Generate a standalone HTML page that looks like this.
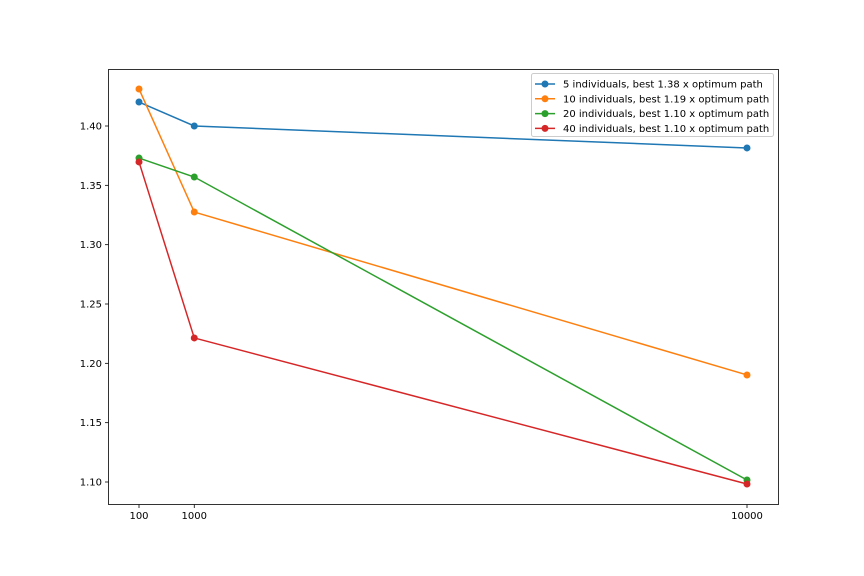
<!DOCTYPE html>
<html><head><meta charset="utf-8"><style>
body{margin:0;background:#fff}
svg{display:block;font-family:"DejaVu Sans","Liberation Sans",sans-serif}
</style></head><body>
<svg id="chart" width="864" height="576" xmlns="http://www.w3.org/2000/svg">
<rect x="0" y="0" width="864" height="576" fill="#fff"/>
<g id="plot"></g>
<rect x="108.5" y="69.5" width="670" height="435" fill="none" stroke="#000" stroke-width="0.8"/>
<g id="legend"></g>
</svg>
<script>
const xValues=[100,1000,10000];
const xTicks=[100,1000,10000];
const yTicks=[1.10,1.15,1.20,1.25,1.30,1.35,1.40];
const seriesNames=["5 individuals, best 1.38 x optimum path","10 individuals, best 1.19 x optimum path","20 individuals, best 1.10 x optimum path","40 individuals, best 1.10 x optimum path"];
const seriesColors=["#1f77b4","#ff7f0e","#2ca02c","#d62728"];
const s5=[1.4202,1.400,1.3815];
const s10=[1.4312,1.3275,1.1902];
const s20=[1.373,1.357,1.1017];
const s40=[1.3697,1.2214,1.0983];
const allSeries=[s5,s10,s20,s40];
const NS="http://www.w3.org/2000/svg";
function X(v){return 139+(v-100)*(747-139)/9900;}
function Y(v){return 482-(v-1.10)*(482-126)/0.30;}
function mk(t,a,p){const e=document.createElementNS(NS,t);for(const k in a)e.setAttribute(k,a[k]);p.appendChild(e);return e;}
const plot=document.getElementById('plot');
xTicks.forEach(t=>{
 const l=mk('line',{x1:X(t),x2:X(t),y1:504.5,y2:508,stroke:'#000','stroke-width':0.8},plot);
 
 
 const tx=mk('text',{x:X(t),y:519,'font-size':10,'text-anchor':'middle'},plot);tx.textContent=t;
 
 
});
yTicks.forEach(t=>{
 const l=mk('line',{x1:105,x2:108.5,y1:Y(t),y2:Y(t),stroke:'#000','stroke-width':0.8},plot);
 
 
 const tx=mk('text',{x:102,y:Y(t)+3.5,'font-size':10,'text-anchor':'end'},plot);tx.textContent=t.toFixed(2);
 
 
});
allSeries.forEach((s,i)=>{
 const pl=mk('polyline',{points:s.map((v,j)=>X(xValues[j])+','+Y(v)).join(' '),fill:'none',stroke:seriesColors[i],'stroke-width':1.5},plot);
 
 
 s.forEach((v,j)=>{
  const c=mk('circle',{cx:X(xValues[j]),cy:Y(v),r:3.5,fill:seriesColors[i]},plot);
  
  
 });
});
const lg=document.getElementById('legend');
mk('rect',{x:531.5,y:73.5,width:242,height:63,rx:2,fill:'#fff','fill-opacity':0.8,stroke:'#ccc'},lg);
seriesNames.forEach((n,i)=>{
 const y=84+i*14.8;
 const ln=mk('line',{x1:535,x2:555,y1:y,y2:y,stroke:seriesColors[i],'stroke-width':1.5},lg);
 
 
 mk('circle',{cx:545,cy:y,r:3.5,fill:seriesColors[i]},lg);
 const t=mk('text',{x:563,y:y+3.5,'font-size':10},lg);t.textContent=n;
 
 
});
</script>
</body></html>
